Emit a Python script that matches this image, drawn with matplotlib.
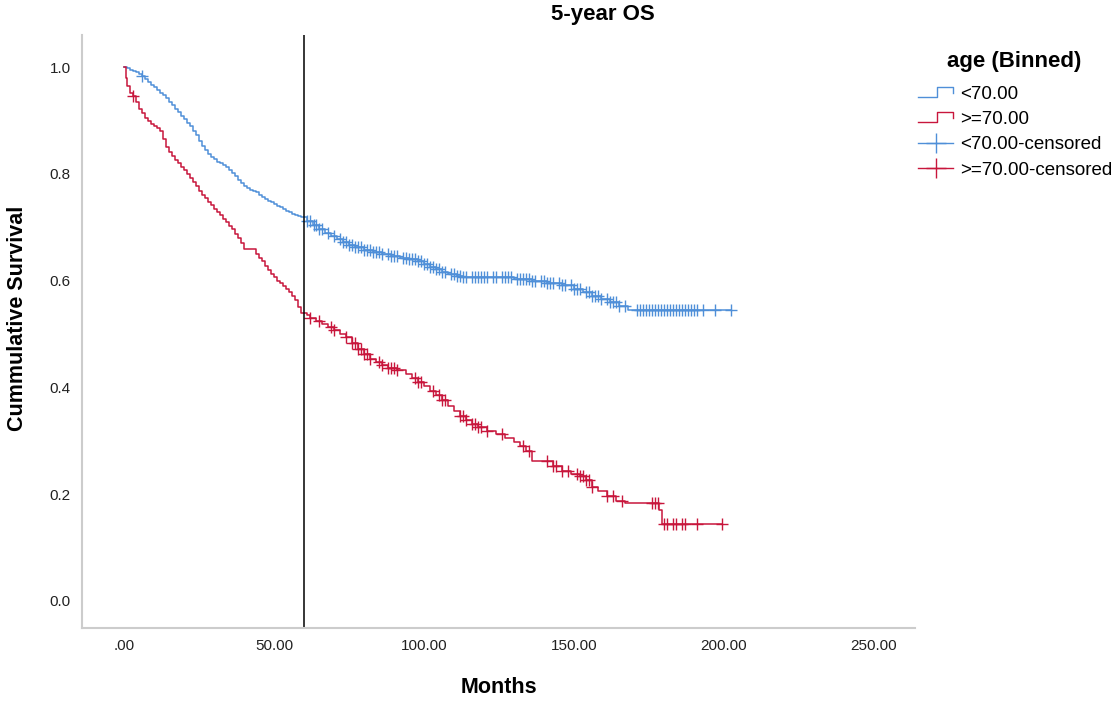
import numpy as np
import matplotlib
matplotlib.use("Agg")
import matplotlib.pyplot as plt
from matplotlib.lines import Line2D
from matplotlib.legend_handler import HandlerBase

# ---------------- data ----------------
blue_t = [0, 1, 2, 3, 4, 5, 6, 7, 8, 9, 10, 11, 12, 13, 14, 15, 16, 17, 18, 19, 20, 21,
          22, 23, 24, 25, 26, 27, 28, 29, 30, 31, 32, 33, 34, 35, 36, 37, 38, 39, 40,
          41, 42, 43, 44, 45, 46, 47, 48, 49, 50, 51, 52, 53, 54, 55, 56, 57, 58, 59,
          61, 63, 65, 67, 69, 71, 73, 75, 77, 80, 83, 86, 89, 92, 95, 98, 100, 102,
          104, 106, 108, 111, 113, 130, 136, 141, 146, 150, 153, 156, 159, 162, 165,
          168]
blue_s = [1.0, 0.998, 0.995, 0.992, 0.99, 0.987, 0.984, 0.978, 0.972, 0.967, 0.962,
          0.957, 0.952, 0.947, 0.942, 0.935, 0.928, 0.921, 0.915, 0.909, 0.903, 0.896,
          0.889, 0.881, 0.872, 0.862, 0.853, 0.845, 0.838, 0.832, 0.827, 0.823, 0.82,
          0.817, 0.813, 0.808, 0.802, 0.796, 0.789, 0.782, 0.777, 0.773, 0.77, 0.767,
          0.765, 0.761, 0.757, 0.753, 0.75, 0.747, 0.743, 0.74, 0.737, 0.734, 0.731,
          0.728, 0.725, 0.723, 0.721, 0.719, 0.712, 0.705, 0.697, 0.69, 0.683, 0.677,
          0.672, 0.667, 0.663, 0.658, 0.654, 0.65, 0.646, 0.643, 0.64, 0.636, 0.631,
          0.626, 0.621, 0.616, 0.612, 0.608, 0.606, 0.603, 0.599, 0.595, 0.591, 0.585,
          0.578, 0.571, 0.565, 0.559, 0.552, 0.545]
blue_end = 202.5

red_t = [0, 0.5, 1, 2, 3, 4, 5, 6, 7, 8, 9, 10, 11, 12, 13, 14, 15, 16, 17, 18, 19, 20,
         21, 22, 23, 24, 25, 26, 27, 28, 29, 30, 31, 32, 33, 34, 35, 36, 37, 38, 39, 40,
         44, 45, 46, 47, 48, 49, 50, 51, 52, 53, 54, 55, 56, 57, 58, 59, 61, 62, 64,
         66, 68, 70, 72, 74, 76, 78, 80, 82, 84, 86, 88, 91, 94, 96, 98, 100, 102, 104,
         106, 108, 110, 112, 114, 116, 118, 121, 124, 127, 130, 132, 134, 136, 143,
         146, 149, 152, 154, 156, 158, 161, 164, 167, 178.5, 179.5]
red_s = [1.0, 0.98, 0.965, 0.952, 0.946, 0.935, 0.922, 0.913, 0.905, 0.899, 0.894,
         0.889, 0.885, 0.88, 0.866, 0.85, 0.841, 0.834, 0.826, 0.82, 0.813, 0.807, 0.8,
         0.793, 0.785, 0.777, 0.768, 0.761, 0.754, 0.747, 0.741, 0.735, 0.728, 0.722,
         0.716, 0.71, 0.703, 0.697, 0.688, 0.679, 0.67, 0.66, 0.65, 0.643, 0.636, 0.628,
         0.62, 0.613, 0.607, 0.6, 0.595, 0.59, 0.584, 0.578, 0.572, 0.564, 0.55, 0.54,
         0.535, 0.53, 0.525, 0.519, 0.513, 0.507, 0.5, 0.494, 0.484, 0.472, 0.462,
         0.454, 0.447, 0.441, 0.436, 0.432, 0.425, 0.418, 0.41, 0.402, 0.394, 0.386,
         0.376, 0.366, 0.356, 0.346, 0.338, 0.331, 0.325, 0.318, 0.312, 0.306, 0.298,
         0.29, 0.28, 0.262, 0.253, 0.244, 0.238, 0.234, 0.226, 0.214, 0.205, 0.196,
         0.187, 0.184, 0.171, 0.145]
red_end = 199.5

blue_cens = [6, 61, 62, 63.5, 64, 65, 66, 68, 70, 72, 73, 74, 75, 76, 77, 78, 79, 80, 81,
             82, 83, 84, 85, 86, 88, 89, 90, 91, 93, 94, 95, 96, 97, 98, 99, 100, 101, 102,
             103, 104, 105, 106, 107, 109, 110, 111, 112, 113, 114, 116, 117, 118, 119,
             120, 121, 123, 124, 126, 127, 128, 129, 131, 132, 133, 134, 135, 136, 137,
             139, 140, 141, 142, 143, 145, 146, 147, 149, 150, 151, 152, 154, 155, 156,
             157, 158, 159, 161, 162, 163, 164, 165, 167, 171, 172, 173, 174, 175, 176,
             177, 178, 179, 180, 181, 182, 183, 184, 185, 186, 187, 188, 189, 190, 191,
             193, 197, 202.5]
red_cens = [3, 62, 65, 69, 70, 74, 76, 77, 78, 79, 80, 81, 82, 85, 86, 88, 89, 90, 91, 97,
            98, 99, 103, 105, 106, 107, 112, 113, 114, 116, 117, 118, 119, 121, 126, 133,
            135, 141, 143, 144, 146, 148, 151, 152, 153, 154, 155, 156, 161, 163, 166,
            176, 177, 178, 180, 181, 183, 184, 186, 187, 191, 199.5]

x_ticks = [0, 50, 100, 150, 200, 250]
x_ticklabels = [".00", "50.00", "100.00", "150.00", "200.00", "250.00"]
y_ticks = [0.0, 0.2, 0.4, 0.6, 0.8, 1.0]
y_ticklabels = ["0.0", "0.2", "0.4", "0.6", "0.8", "1.0"]
vline_x = 60

legend_title = "age (Binned)"
series_labels = ["<70.00", ">=70.00", "<70.00-censored", ">=70.00-censored"]

# ---------------- style ----------------
BLUE = "#4F8FD8"
RED = "#C8163C"
FONT = ["Liberation Sans", "DejaVu Sans"]
plt.rcParams["font.family"] = FONT

fig = plt.figure(figsize=(11.19, 7.04), dpi=100)
ax = fig.add_axes([0.0733, 0.108, 0.7444, 0.8423])


def step_xy(t, s, end):
    xs = list(t) + [end]
    ys = list(s) + [s[-1]]
    return xs, ys


def surv_at(t, s, x):
    idx = np.searchsorted(np.asarray(t), x, side="right") - 1
    return np.asarray(s)[idx]


bx, by = step_xy(blue_t, blue_s, blue_end)
rx, ry = step_xy(red_t, red_s, red_end)
ax.step(bx, by, where="post", color=BLUE, lw=1.1)
ax.step(rx, ry, where="post", color=RED, lw=1.1)
ax.plot(blue_cens, surv_at(blue_t, blue_s, blue_cens), ls="none", marker="+",
        color=BLUE, markersize=9, mew=1.0)
ax.plot(red_cens, surv_at(red_t, red_s, red_cens), ls="none", marker="+",
        color=RED, markersize=9, mew=1.0)

ax.axvline(vline_x, color="black", lw=1.1)

ax.set_xlim(-14, 263.7)
ax.set_ylim(-0.0506, 1.06)
ax.set_xticks(x_ticks)
ax.set_xticklabels(x_ticklabels)
ax.set_yticks(y_ticks)
ax.set_yticklabels(y_ticklabels)
ax.tick_params(length=0, labelsize=11, colors="#222222", pad=8)
for side in ["top", "right"]:
    ax.spines[side].set_visible(False)
for side in ["left", "bottom"]:
    ax.spines[side].set_color("#CCCCCC")
    ax.spines[side].set_linewidth(1.5)

fig.text(0.446, 0.024, "Months", ha="center", va="center", fontsize=15.5,
         fontweight="bold")
fig.text(0.016, 0.548, "Cummulative Survival", ha="center", va="center",
         rotation=90, fontsize=15.5, fontweight="bold")
fig.text(0.539, 0.979, "5-year OS", ha="center", va="center", fontsize=16,
         fontweight="bold")
fig.text(0.906, 0.912, legend_title, ha="center", va="center", fontsize=16,
         fontweight="bold")


class StepHandler(HandlerBase):
    def create_artists(self, legend, orig_handle, xdescent, ydescent, width, height,
                       fontsize, trans):
        x0 = -xdescent
        y0 = -ydescent
        xs = [x0, x0 + 0.55 * width, x0 + 0.55 * width, x0 + width, x0 + width]
        ys = [y0 + 0.15 * height, y0 + 0.15 * height, y0 + 0.9 * height,
              y0 + 0.9 * height, y0 + 0.45 * height]
        ln = Line2D(xs, ys, color=orig_handle.get_color(), lw=1.0, transform=trans)
        return [ln]


h_b = Line2D([], [], color=BLUE)
h_r = Line2D([], [], color=RED)
h_bc = Line2D([], [], color=BLUE, marker="+", markersize=15, lw=1.0, mew=1.0)
h_rc = Line2D([], [], color=RED, marker="+", markersize=15, lw=1.0, mew=1.0)
leg = fig.legend([h_b, h_r, h_bc, h_rc], series_labels,
                 handler_map={h_b: StepHandler(), h_r: StepHandler()},
                 loc="upper left", bbox_to_anchor=(0.8204, 0.878), frameon=False,
                 fontsize=13.5, handlelength=1.87, handletextpad=0.37,
                 labelspacing=0.43, borderaxespad=0, borderpad=0)

fig.savefig("out.png", dpi=100)
